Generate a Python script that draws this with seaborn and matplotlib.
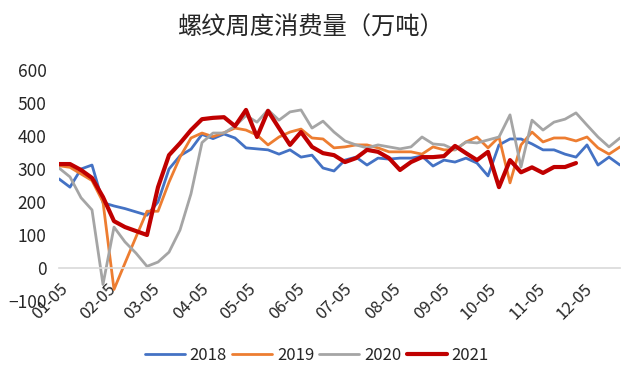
import numpy as np
import pandas as pd
import matplotlib
matplotlib.use("Agg")
import matplotlib.pyplot as plt
import seaborn as sns

# weekly consumption, 10k tonnes
weeks = pd.date_range("2021-01-05", periods=52, freq="7D")
tick_dates = pd.to_datetime(["2021-01-05", "2021-02-05", "2021-03-05", "2021-04-05",
                             "2021-05-05", "2021-06-05", "2021-07-05", "2021-08-05",
                             "2021-09-05", "2021-10-05", "2021-11-05", "2021-12-05"])
tick_labels = ["01-05", "02-05", "03-05", "04-05", "05-05", "06-05",
               "07-05", "08-05", "09-05", "10-05", "11-05", "12-05"]

y2018 = [270, 245, 300, 312, 198, 188, 180, 170, 160, 200, 300, 340, 360, 405, 392, 406,
         394, 364, 361, 358, 345, 358, 336, 342, 303, 294, 327, 336, 312, 333, 330, 333,
         333, 339, 309, 327, 321, 333, 318, 279, 373, 391, 391, 376, 358, 358, 345, 336,
         373, 312, 336, 312]
y2019 = [310, 305, 285, 265, 200, -65, 15, 94, 172, 172, 260, 336, 394, 409, 398, 410,
         424, 418, 403, 373, 397, 412, 421, 394, 391, 364, 367, 373, 373, 364, 352, 352,
         352, 345, 367, 358, 358, 382, 397, 364, 397, 258, 373, 412, 382, 394, 394, 385,
         397, 364, 345, 367]
y2020 = [303, 276, 213, 176, -50, 124, 79, 45, 5, 18, 48, 115, 225, 380, 409, 409,
         430, 462, 442, 479, 448, 473, 479, 424, 445, 412, 385, 373, 364, 373, 367, 361,
         367, 397, 376, 373, 358, 382, 379, 388, 397, 464, 306, 448, 418, 442, 451, 470,
         433, 397, 367, 394]
y2021 = [315, 315, 297, 273, 215, 142, 124, 112, 100, 245, 342, 378, 418, 451, 455, 457,
         430, 479, 397, 476, 424, 373, 412, 367, 348, 342, 321, 333, 358, 352, 333, 297,
         321, 336, 336, 339, 370, 348, 327, 352, 245, 327, 290, 305, 288, 306, 306, 318]

series = {"2018": y2018, "2019": y2019, "2020": y2020, "2021": y2021}
colors = {"2018": "#4472C4", "2019": "#ED7D31", "2020": "#A5A5A5", "2021": "#C00000"}
widths = {"2018": 2.0, "2019": 2.0, "2020": 2.0, "2021": 3.0}

sns.set_theme(style="white")
plt.rcParams["font.family"] = ["Noto Sans CJK SC", "DejaVu Sans"]

fig = plt.figure(figsize=(6.4, 3.84), dpi=100)
ax = fig.add_axes([59 / 640, 1 - 301 / 384, 561 / 640, 231 / 384])

for name, vals in series.items():
    df = pd.DataFrame({"week": weeks[:len(vals)], "value": vals})
    sns.lineplot(data=df, x="week", y="value", ax=ax, color=colors[name],
                 linewidth=widths[name], label=name,
                 solid_capstyle="round", solid_joinstyle="round")

# spine position resets the ticks, so do it before styling the labels
for s in ["top", "right", "left"]:
    ax.spines[s].set_visible(False)
ax.spines["bottom"].set_position(("data", 0))
ax.spines["bottom"].set_color("#D9D9D9")
ax.spines["bottom"].set_linewidth(1.2)

ax.set_xlim(weeks[0], weeks[-1])
ax.set_ylim(-100, 600)
ax.set_yticks(range(-100, 601, 100))
ax.tick_params(axis="x", length=0, pad=9)
ax.tick_params(axis="y", labelsize=12.5, length=0, pad=9)
ax.set_xticks(tick_dates, labels=tick_labels, rotation=45, ha="right",
              rotation_mode="anchor", fontsize=12)
ax.set_xlabel("")
ax.set_ylabel("")

ax.legend(loc="center", bbox_to_anchor=(0.495, 0.075), bbox_transform=fig.transFigure,
          ncol=4, frameon=False, fontsize=12, handlelength=2.4, columnspacing=0.3,
          handletextpad=0.3)

fig.text(310 / 640, 1 - 28 / 384, "螺纹周度消费量（万吨）", ha="center", va="center",
         fontsize=17.5)

# make sure the rotated labels hang from their tick
fig.canvas.draw()
for lbl in ax.get_xticklabels():
    lbl.set_horizontalalignment("right")
    lbl.set_rotation_mode("anchor")

plt.savefig("out.png", dpi=100)
